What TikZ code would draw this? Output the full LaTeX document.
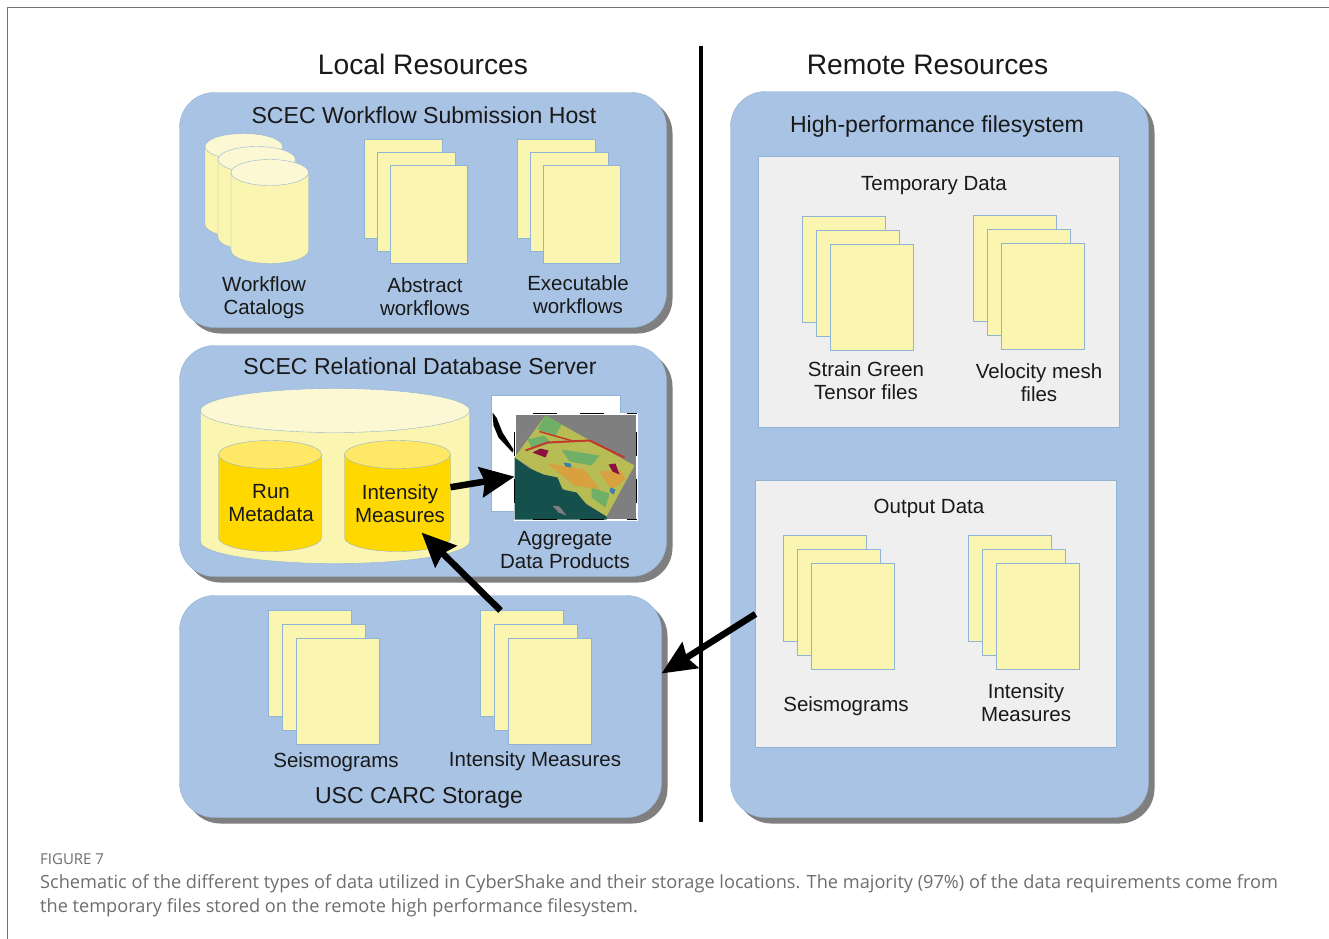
\documentclass[tikz,border=0pt]{standalone}
\usepackage{fontspec}
\setmainfont{Liberation Sans}
\newfontfamily\captionfont{Open Sans}
\usetikzlibrary{arrows.meta,positioning,shadows}

\definecolor{panelblue}{HTML}{A9C3E4}
\definecolor{edgeblue}{HTML}{93B3D3}
\definecolor{shadowgray}{HTML}{7F7F7F}
\definecolor{paleyellow}{HTML}{FAF5B0}
\definecolor{topyellow}{HTML}{FBF8D3}
\definecolor{gold}{HTML}{FFD800}
\definecolor{topgold}{HTML}{FFE866}
\definecolor{boxgray}{HTML}{EFEFEF}
\definecolor{captiongray}{HTML}{6E6E6E}
\definecolor{seagreen}{HTML}{15504C}
\definecolor{landbase}{HTML}{B7BC55}
\definecolor{landgreen}{HTML}{6FAF68}
\definecolor{landorange}{HTML}{D9A040}
\definecolor{landred}{HTML}{C23A2C}
\definecolor{landdark}{HTML}{8B1240}
\definecolor{landblue}{HTML}{3A7FA8}

% three sheets: name, x, y, width, height, offset
\newcommand{\sheets}[6]{
    \foreach \i in {0,1,2} {
        \node[sheet, minimum width=#4pt, minimum height=#5pt] (#1\i) at (#2+\i*#6, #3+\i*#6) {};
    }
}

% drum: name, x, y, width, height, end radius, body colour, end colour
\newcommand{\drum}[8]{
    \node[minimum width=#4pt, minimum height=#5pt, inner sep=0pt, outer sep=0pt, anchor=north west] (#1) at (#2,#3) {};
    \draw[edgeblue, fill=#7] (#2,#3+#6) -- (#2,#3+#5-#6) arc[start angle=180, end angle=0, x radius=#4/2, y radius=#6] -- (#2+#4,#3+#6) -- cycle;
    \draw[edgeblue, fill=#8] (#2+#4/2,#3+#6) ellipse [x radius=#4/2, y radius=#6];
}

\begin{document}
\begin{tikzpicture}[x=1pt, y=-1pt,
    panel/.style = {draw=edgeblue, fill=panelblue, rounded corners=35pt, anchor=north west, inner sep=0pt, outer sep=0pt,
        general shadow={shadow xshift=6pt, shadow yshift=-6pt, fill=shadowgray}},
    box/.style = {draw=edgeblue, fill=boxgray, anchor=north west, inner sep=0pt, outer sep=0pt},
    sheet/.style = {draw=edgeblue, fill=paleyellow, anchor=north west, inner sep=0pt, outer sep=0pt},
    title/.style = {font=\fontsize{28.2}{32}\selectfont, text=black!90},
    head/.style = {font=\fontsize{23.1}{28}\selectfont, text=black!90},
    label/.style = {font=\fontsize{20.5}{23}\selectfont, align=center, text=black!90},
    handle/.style = {line width=1.8pt, dash pattern=on 24pt off 23pt, dash phase=29pt},
    bigarrow/.style = {line width=6.5pt, -{Stealth[length=34pt, width=30pt, inset=4pt]}}]

    \useasboundingbox (0.5,0.5) rectangle (1329.5,938.5);
    \fill[white] (0,0) rectangle (1330,939);
    \draw[gray!90!black, line width=1.2pt] (8,939) -- (8,8) -- (1330,8);

    \node[title] (local) at (423.5,65) {Local Resources};
    \node[title] (remote) at (928,65) {Remote Resources};

    \coordinate (divtop) at (701.5,46);
    \coordinate (divbot) at (701.5,822);
    \draw[line width=3.5pt] (divtop) -- (divbot);

    % left side
    \node[panel, minimum width=487pt, minimum height=235pt] (host) at (180,93) {};
    \node[panel, minimum width=487pt, minimum height=231pt] (dbserver) at (180,346) {};
    \node[panel, minimum width=482pt, minimum height=222pt] (carc) at (180,596) {};

    \node[head] (hosttitle) at (424.5,116) {SCEC Workflow Submission Host};
    \drum{cat0}{205.5}{134}{77.5}{104}{13}{paleyellow}{topyellow}
    \drum{cat1}{218.5}{147}{77.5}{104}{13}{paleyellow}{topyellow}
    \drum{cat2}{231.5}{160}{77.5}{104}{13}{paleyellow}{topyellow}
    \sheets{abs}{365}{140}{77.5}{98.5}{12.7}
    \sheets{exe}{518}{140}{77.5}{98.5}{12.7}
    \node[label] (catlabel) at (264.5,298) {Workflow\\Catalogs};
    \node[label] (abslabel) at (425.5,297) {Abstract\\workflows};
    \node[label] (exelabel) at (578.5,295.5) {Executable\\workflows};

    \node[head] (dbtitle) at (420.5,367) {SCEC Relational Database Server};
    \drum{db}{201}{389}{269}{175}{22}{paleyellow}{topyellow}
    \drum{dbrun}{219}{441}{103}{111}{14}{gold}{topgold}
    \drum{dbim}{345}{441}{106}{111}{14}{gold}{topgold}
    \node[label] (runlabel) at (271.5,504) {Run\\Metadata};
    \node[label] (imlabel) at (400.5,504) {Intensity\\Measures};

    % aggregate data products
    \node[draw=edgeblue, fill=white, minimum width=129pt, minimum height=116pt, inner sep=0pt, anchor=north west] (plot) at (491,395) {};
    \fill[black] (493,413) -- (497,418) -- (503,433) -- (514,450) -- (513,453) -- (499,438) -- (494,426) -- cycle;
    \node[draw=white, line width=2pt, fill=shadowgray, minimum width=122pt, minimum height=106pt, inner sep=0pt, outer sep=0pt, anchor=north west] (aggmap) at (515,414) {};
    \begin{scope}
        \clip (515,414) rectangle (637,520);
        \fill[landbase] (546,416) -- (635,466) -- (607,517) -- (515,458) -- cycle;
        \fill[landgreen] (546,416) -- (562,425) -- (556,436) -- (538,430) -- cycle;
        \fill[landgreen] (528,440) -- (545,436) -- (552,444) -- (532,448) -- cycle;
        \fill[landgreen] (562,450) -- (600,456) -- (592,466) -- (570,462) -- cycle;
        \fill[landgreen] (592,488) -- (610,494) -- (606,508) -- (592,498) -- cycle;
        \fill[landorange] (548,464) -- (585,470) -- (600,490) -- (575,486) -- cycle;
        \fill[landorange] (600,472) -- (620,470) -- (626,480) -- (612,490) -- cycle;
        \draw[landred, line width=2pt] (526,451) -- (548,443) -- (590,441) -- (625,458);
        \draw[landred, line width=1.5pt] (540,432) -- (575,442);
        \fill[landdark] (533,453) -- (541,449) -- (549,451) -- (546,458) -- cycle;
        \fill[landdark] (609,465) -- (616,464) -- (620,475) -- (613,472) -- cycle;
        \fill[landblue] (564,463) -- (571,464) -- (572,468) -- (566,467) -- cycle;
        \fill[landblue] (611,488) -- (616,490) -- (614,495) -- (610,492) -- cycle;
        \fill[seagreen] (515,458) -- (530,469) -- (544,475) -- (558,478) -- (563,490) -- (577,493) -- (587,505) -- (607,517) -- (607,520) -- (515,520) -- cycle;
        \fill[shadowgray] (553,506) -- (560,507) -- (567,516) -- (559,513) -- cycle;
    \end{scope}
    \draw[handle] (aggmap.north west) -- (aggmap.north east);
    \draw[handle] (aggmap.south west) -- (aggmap.south east);
    \draw[handle] (aggmap.north west) -- (aggmap.south west);
    \draw[handle] (aggmap.north east) -- (aggmap.south east);
    \node[label] (agglabel) at (565.5,550.5) {Aggregate\\Data Products};

    \sheets{uscseis}{269}{611}{83}{106}{14}
    \sheets{uscim}{481}{611}{83}{106}{14}
    \node[label] (uscseislabel) at (336.5,762.5) {Seismograms};
    \node[label] (uscimlabel) at (535.5,761.5) {Intensity Measures};
    \node[head] (carctitle) at (419.5,798.5) {USC CARC Storage};

    % right side
    \node[panel, minimum width=418pt, minimum height=726pt] (hpc) at (731,92) {};
    \node[head] (hpctitle) at (937.5,127.5) {High-performance filesystem};

    \node[box, minimum width=361pt, minimum height=271pt] (tempbox) at (759,157) {};
    \node[label] (temptitle) at (934.5,186) {Temporary Data};
    \sheets{sgt}{803}{217}{83}{106}{14}
    \sheets{mesh}{974}{216}{83}{106}{14}
    \node[label] (sgtlabel) at (866.5,381) {Strain Green\\Tensor files};
    \node[label] (meshlabel) at (1039.5,383) {Velocity mesh\\files};

    \node[box, minimum width=361pt, minimum height=267pt] (outbox) at (756,481) {};
    \node[label] (outtitle) at (929.5,509) {Output Data};
    \sheets{outseis}{784}{536}{83}{106}{14}
    \sheets{outim}{969}{536}{83}{106}{14}
    \node[label] (outseislabel) at (846.5,707) {Seismograms};
    \node[label] (outimlabel) at (1026.5,703) {Intensity\\Measures};

    % data flow
    \coordinate (imtip) at (422,533);
    \draw[bigarrow] (dbim) -- (aggmap);
    \draw[bigarrow] ([xshift=20pt]uscim0.north west) -- (imtip);
    \draw[bigarrow] (outbox.west) -- ([yshift=33pt]carc.east);

    % caption
    \node[anchor=west, inner sep=0pt, text=captiongray, font=\captionfont\fontsize{15}{17}\selectfont] (figlabel) at (40.5,859.5) {FIGURE 7};
    \node[anchor=west, inner sep=0pt, text=captiongray, font=\captionfont\fontsize{18.18}{20}\selectfont] (capone) at (40.5,884) {Schematic of the different types of data utilized in CyberShake and their storage locations. The majority (97\%) of the data requirements come from};
    \node[anchor=west, inner sep=0pt, text=captiongray, font=\captionfont\fontsize{18.18}{20}\selectfont] (captwo) at (40.5,908) {the temporary files stored on the remote high performance filesystem.};
\end{tikzpicture}
\end{document}
